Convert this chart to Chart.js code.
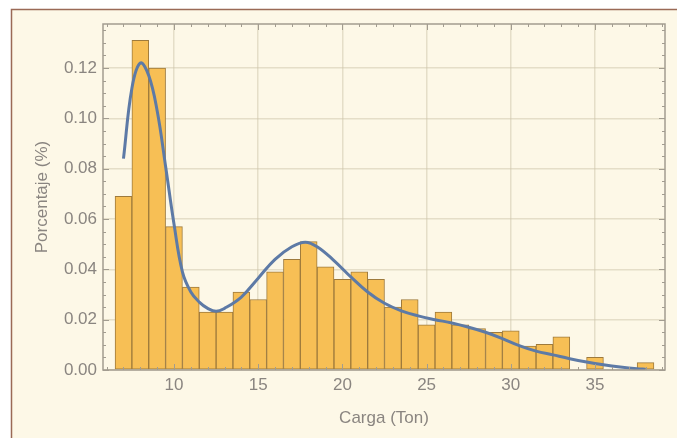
<!DOCTYPE html>
<html>
<head>
<meta charset="utf-8">
<script src="https://cdn.jsdelivr.net/npm/chart.js@4.4.1/dist/chart.umd.min.js"></script>
<style>
    html, body { margin: 0; padding: 0; background: #ffffff; }
    #wrap { width: 677px; height: 438px; }
</style>
</head>
<body>
<div id="wrap"><canvas id="histChart" width="677" height="438"></canvas></div>
<script>
// histograma: centro de cada clase (Ton) y porcentaje
const binCenters = [7, 8, 9, 10, 11, 12, 13, 14, 15, 16, 17, 18, 19, 20, 21, 22,
    23, 24, 25, 26, 27, 28, 29, 30, 31, 32, 33, 35, 38];
const binValues = [0.069, 0.131, 0.120, 0.057, 0.033, 0.023, 0.023, 0.031, 0.028, 0.039, 0.044, 0.051, 0.041, 0.036, 0.039, 0.036,
    0.025, 0.028, 0.018, 0.023, 0.018, 0.0165, 0.015, 0.0156, 0.0095, 0.0102, 0.0132, 0.005, 0.0029];

// curva de densidad suavizada
const curveX = [7.0, 7.5, 8.0, 8.5, 9.0, 9.5, 10.0, 10.5, 11.0, 11.5, 12.0, 12.5, 13.0, 14.0,
    15.0, 16.0, 17.0, 17.8, 18.5, 19.5, 20.5, 21.5, 22.5, 23.5, 24.5, 25.5, 26.5, 27.5,
    28.5, 29.5, 30.5, 31.5, 32.5, 33.5, 34.5, 35.5, 36.5, 37.5, 38.0];
const curveY = [0.084, 0.112, 0.122, 0.117, 0.103, 0.081, 0.058, 0.039, 0.031, 0.027, 0.0245, 0.0233, 0.0245, 0.029,
    0.0365, 0.044, 0.049, 0.0508, 0.049, 0.0435, 0.037, 0.031, 0.0265, 0.0235, 0.0215, 0.0200, 0.0187, 0.017,
    0.015, 0.0125, 0.0097, 0.0075, 0.006, 0.0045, 0.0032, 0.0021, 0.0012, 0.0005, 0.0003];

const xTicks = [10, 15, 20, 25, 30, 35];
const yTicks = [0, 0.02, 0.04, 0.06, 0.08, 0.10, 0.12];

const textColor = '#8a8580';
const frameColor = '#a29c90';
const gridColor = 'rgba(205, 195, 170, 0.5)';

const ctx = document.getElementById('histChart');

new Chart(ctx, {
    type: 'bar',
    data: {
        datasets: [{
            type: 'line',
            data: curveX.map((x, i) => ({ x: x, y: curveY[i] })),
            borderColor: '#5d7aa6',
            borderWidth: 3,
            pointRadius: 0,
            fill: false,
            tension: 0.4,
            order: 0
        }, {
            type: 'bar',
            data: binCenters.map((x, i) => ({ x: x, y: binValues[i] })),
            backgroundColor: '#f7bf55',
            borderColor: '#9e7a3c',
            borderWidth: 1,
            borderSkipped: false,
            barPercentage: 1,
            categoryPercentage: 1,
            order: 1
        }]
    },
    options: {
        responsive: false,
        animation: false,
        layout: {
            padding: { left: 14, right: 12, top: 24, bottom: 0 }
        },
        plugins: {
            legend: { display: false },
            tooltip: { enabled: false }
        },
        scales: {
            x: {
                type: 'linear',
                min: 5.784,
                max: 39.157,
                offset: false,
                afterBuildTicks: (axis) => { axis.ticks = xTicks.map(v => ({ value: v })); },
                afterFit: (axis) => { axis.height = 68; },
                grid: { color: gridColor, lineWidth: 1.5, drawTicks: false, offset: false },
                border: { display: false },
                ticks: {
                    color: textColor,
                    padding: 5,
                    font: { family: 'Liberation Sans, Arial, sans-serif', size: 17 }
                },
                title: {
                    display: true,
                    text: 'Carga (Ton)',
                    color: textColor,
                    padding: { top: 4, bottom: 9 },
                    font: { family: 'Liberation Sans, Arial, sans-serif', size: 17 }
                }
            },
            y: {
                min: 0,
                max: 0.1375,
                afterBuildTicks: (axis) => { axis.ticks = yTicks.map(v => ({ value: v })); },
                afterFit: (axis) => { axis.width = 89; },
                grid: { color: gridColor, lineWidth: 1.5, drawTicks: false },
                border: { display: false },
                ticks: {
                    color: textColor,
                    padding: 6,
                    callback: (value) => value.toFixed(2),
                    font: { family: 'Liberation Sans, Arial, sans-serif', size: 17 }
                },
                title: {
                    display: true,
                    text: 'Porcentaje (%)',
                    color: textColor,
                    padding: { top: 18, bottom: 0 },
                    font: { family: 'Liberation Sans, Arial, sans-serif', size: 17 }
                }
            }
        }
    },
    plugins: [{
        id: 'paperBackground',
        beforeDraw: (chart) => {
            const c = chart.ctx;
            c.save();
            c.fillStyle = '#ffffff';
            c.fillRect(0, 0, chart.width, chart.height);
            c.fillStyle = '#fdf8e7';
            c.fillRect(11, 9, chart.width - 11, chart.height - 9);
            // borde marron de la figura
            c.strokeStyle = '#9a6a56';
            c.lineWidth = 1.5;
            c.beginPath();
            c.moveTo(11.5, chart.height);
            c.lineTo(11.5, 9.5);
            c.lineTo(chart.width, 9.5);
            c.stroke();
            c.restore();
        }
    }, {
        id: 'frameTicks',
        afterDraw: (chart) => {
            const c = chart.ctx;
            const { chartArea: a, scales: { x, y } } = chart;
            c.save();
            c.strokeStyle = frameColor;
            c.lineWidth = 1.5;
            c.strokeRect(a.left, a.top, a.right - a.left, a.bottom - a.top);
            c.lineWidth = 1;
            c.beginPath();
            // marcas en x, cada 1 Ton
            for (let v = 6; v <= 39; v++) {
                const px = Math.round(x.getPixelForValue(v)) + 0.5;
                const len = v % 5 === 0 ? 6 : 3;
                c.moveTo(px, a.bottom); c.lineTo(px, a.bottom - len);
                c.moveTo(px, a.top); c.lineTo(px, a.top + len);
            }
            // marcas en y, cada 0.005
            for (let k = 0; k <= 27; k++) {
                const v = k * 0.005;
                const py = Math.round(y.getPixelForValue(v)) + 0.5;
                const len = k % 4 === 0 ? 6 : 3;
                c.moveTo(a.left, py); c.lineTo(a.left + len, py);
                c.moveTo(a.right, py); c.lineTo(a.right - len, py);
            }
            c.stroke();
            c.restore();
        }
    }]
});
</script>
</body>
</html>
